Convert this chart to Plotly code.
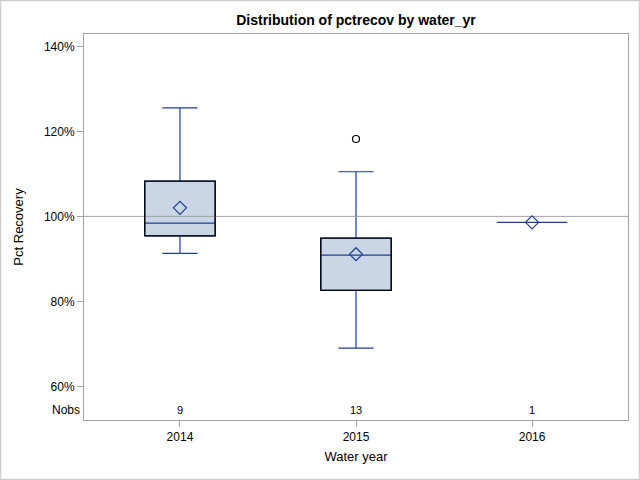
import plotly.graph_objects as go

# ---- data ----
years = ["2014", "2015", "2016"]
nobs = [9, 13, 1]
lower_whisker = [91.3, 69.0, 98.6]
q1 = [95.4, 82.6, 98.6]
median = [98.4, 90.9, 98.6]
q3 = [108.3, 94.9, 98.6]
upper_whisker = [125.5, 110.5, 98.6]
means = [102.0, 91.1, 98.6]
outlier_year_idx = [1]
outlier_values = [118.2]
ytick_vals = [60, 80, 100, 120, 140]
ytick_text = ["60%", "80%", "100%", "120%", "140%"]
ref_value = 100

FONT = "Liberation Sans, Arial, sans-serif"
BLUE = "#1F3F94"
FILL = "#CAD5E5"
FRAME = "#A0A4A8"
box_w = 0.40

xpos = list(range(len(years)))

fig = go.Figure()

fig.add_trace(go.Box(
    x=xpos, q1=q1, median=median, q3=q3,
    lowerfence=lower_whisker, upperfence=upper_whisker,
    fillcolor=FILL, line=dict(color=BLUE, width=1.2),
    width=box_w, whiskerwidth=0.5, boxpoints=False, showlegend=False,
    hoverinfo="skip",
))

# reference line at 100%
fig.add_trace(go.Scatter(
    x=[-0.545, 2.545], y=[ref_value, ref_value], mode="lines",
    line=dict(color="#A0A0A0", width=1), showlegend=False, hoverinfo="skip",
))

# black outline of boxes with extent
for i, x in enumerate(xpos):
    if q3[i] > q1[i]:
        fig.add_trace(go.Scatter(
            x=[x - box_w / 2, x + box_w / 2, x + box_w / 2, x - box_w / 2, x - box_w / 2],
            y=[q1[i], q1[i], q3[i], q3[i], q1[i]],
            mode="lines", line=dict(color="black", width=1.3), showlegend=False,
            hoverinfo="skip",
        ))

# means
fig.add_trace(go.Scatter(
    x=xpos, y=means, mode="markers",
    marker=dict(symbol="diamond-open", size=10, color=BLUE, line=dict(width=1.2, color=BLUE)),
    showlegend=False,
))

# outliers
fig.add_trace(go.Scatter(
    x=[xpos[i] for i in outlier_year_idx], y=outlier_values, mode="markers",
    marker=dict(symbol="circle-open", size=7, color="black", line=dict(width=1.2, color="black")),
    showlegend=False,
))

annotations = []
for x, n in zip(xpos, nobs):
    annotations.append(dict(x=x, y=0.026, xref="x", yref="paper", text=str(n),
                            showarrow=False, font=dict(size=11, color="#000000", family=FONT),
                            xanchor="center", yanchor="middle"))
annotations.append(dict(x=0, y=0.026, xref="paper", yref="paper", text="Nobs",
                        showarrow=False, font=dict(size=12, color="#000000", family=FONT),
                        xanchor="right", yanchor="middle", xshift=-2))

fig.update_layout(
    width=640, height=480,
    margin=dict(l=84, r=12, t=34, b=60, autoexpand=False),
    paper_bgcolor="white", plot_bgcolor="white",
    font=dict(family=FONT, size=12, color="black"),
    title=dict(text="<b>Distribution of pctrecov by water_yr</b>", x=0.5, xref="paper",
               y=1 - 20 / 480, yanchor="middle", font=dict(size=14, family=FONT)),
    annotations=annotations,
    shapes=[dict(type="rect", xref="paper", yref="paper",
                 x0=-84 / 544 + 0.5 / 544, x1=1 + 11.5 / 544,
                 y0=-59.5 / 386, y1=1 + 33.5 / 386,
                 line=dict(color="#D0D0D0", width=1.5), fillcolor="rgba(0,0,0,0)", layer="below")],
)

fig.update_xaxes(
    range=[-0.545, 2.545], tickvals=xpos, ticktext=years, automargin=False,
    showline=True, linecolor=FRAME, linewidth=1, mirror=True,
    ticks="outside", ticklen=6, tickcolor=FRAME, showgrid=False, zeroline=False,
    tickfont=dict(size=12, family=FONT),
    title=dict(text="Water year", font=dict(size=13, family=FONT), standoff=8),
)
fig.update_yaxes(
    range=[52.1, 142.9], tickvals=ytick_vals, ticktext=ytick_text, automargin=False,
    showline=True, linecolor=FRAME, linewidth=1, mirror=True,
    ticks="outside", ticklen=6, tickcolor=FRAME, showgrid=False, zeroline=False,
    tickfont=dict(size=12, family=FONT),
    title=dict(text="Pct Recovery", font=dict(size=13, family=FONT), standoff=17),
)

fig.write_html("out.html", config={"displayModeBar": False},
               post_script="document.body.style.margin='0px';document.body.style.overflow='hidden';")
